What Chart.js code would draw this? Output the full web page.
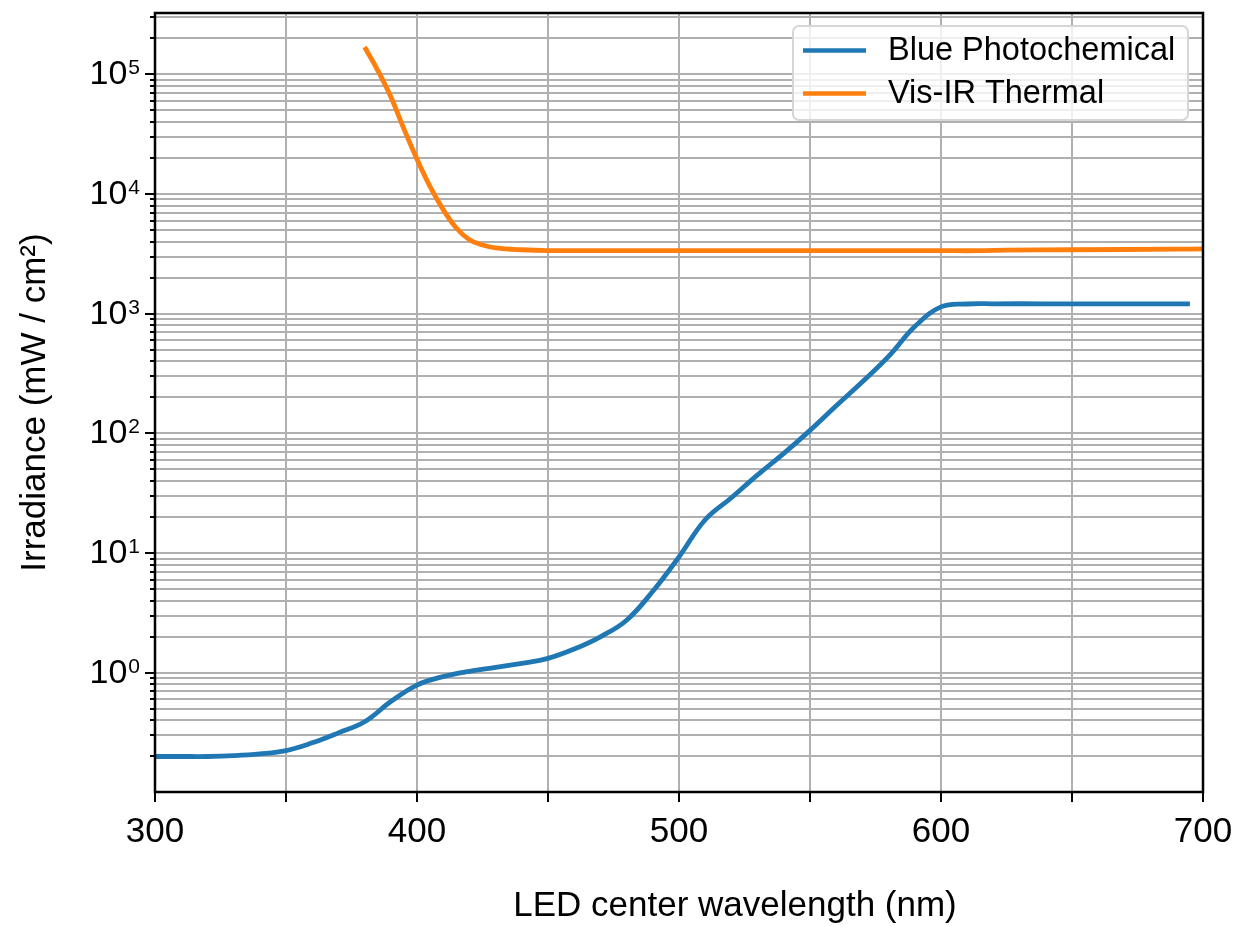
<!DOCTYPE html>
<html>
<head>
<meta charset="utf-8">
<script src="https://cdn.jsdelivr.net/npm/chart.js@4.4.1/dist/chart.umd.min.js"></script>
<style>
  html, body { margin: 0; padding: 0; background: #fff; }
  canvas { display: block; }
</style>
</head>
<body>
<canvas id="c" width="1252" height="926"></canvas>
<script>
// ---- data ----
const blueLabel = 'Blue Photochemical';
const blueWavelength = [300,310,320,330,340,350,360,370,380,390,400,410,420,430,440,450,460,470,480,490,500,510,520,530,540,550,560,570,580,590,600,610,620,640,660,680,695];
const blueIrradiance = [0.20,0.20,0.20,0.203,0.21,0.224,0.26,0.315,0.39,0.575,0.79,0.93,1.03,1.11,1.2,1.32,1.58,2.0,2.75,4.8,9.3,19,29,45,68,106,170,270,440,780,1140,1205,1210,1210,1210,1210,1210];

const thermalLabel = 'Vis-IR Thermal';
const thermalWavelength = [380,385,390,395,400,405,410,415,420,425,430,440,450,500,550,600,615,625,650,690,700];
const thermalIrradiance = [1.69e5,1.08e5,6.5e4,3.5e4,1.95e4,1.15e4,7.4e3,5.2e3,4.15e3,3.75e3,3.55e3,3.42e3,3.37e3,3.36e3,3.36e3,3.36e3,3.36e3,3.40e3,3.42e3,3.46e3,3.48e3];

const xTickLabels = ['300','400','500','600','700'];
const yMajorExponents = [0,1,2,3,4,5];
const xTitle = 'LED center wavelength (nm)';
const yTitle = 'Irradiance (mW / cm\u00B2)';

const xMin = 300, xMax = 700, xStep = 50;
const yMin = 0.101, yMax = 3.25e5;

// ---- helpers ----
function isPow10(v){ const l = Math.log10(v); return Math.abs(l - Math.round(l)) < 1e-9; }
function toPoints(xs, ys){ return xs.map((x, i) => ({x: x, y: ys[i]})); }
function zeroPad(s){ s.paddingTop = 0; s.paddingBottom = 0; s.paddingLeft = 0; s.paddingRight = 0; }

const FONT = "'Liberation Sans', Arial, sans-serif";

const decor = {
  id: 'decor',
  afterDatasetsDraw(chart){
    const {ctx, chartArea: a, scales: {x, y}} = chart;
    ctx.save();
    // tick marks
    ctx.strokeStyle = '#000';
    ctx.lineWidth = 2;
    ctx.beginPath();
    x.ticks.forEach(t => {
      const px = Math.round(x.getPixelForValue(t.value));
      ctx.moveTo(px, a.bottom); ctx.lineTo(px, a.bottom + 10);
    });
    y.ticks.forEach(t => {
      const py = Math.round(y.getPixelForValue(t.value));
      const len = isPow10(t.value) ? 10 : 5;
      ctx.moveTo(a.left - len, py); ctx.lineTo(a.left, py);
    });
    ctx.stroke();
    // spines
    ctx.lineWidth = 2.5;
    ctx.strokeRect(a.left, a.top, a.right - a.left, a.bottom - a.top);

    // y tick labels: 10 with superscript exponent
    ctx.fillStyle = '#000';
    ctx.textAlign = 'left';
    ctx.textBaseline = 'alphabetic';
    yMajorExponents.forEach(e => {
      const v = Math.pow(10, e);
      if (v < yMin || v > yMax) return;
      const py = y.getPixelForValue(v);
      const exp = String(e);
      ctx.font = '21px ' + FONT;
      const ew = ctx.measureText(exp).width;
      ctx.font = '34px ' + FONT;
      const bw = ctx.measureText('10').width;
      const right = a.left - 15;
      const base = py + 10;
      ctx.fillText('10', right - ew - 1 - bw, base);
      ctx.font = '21px ' + FONT;
      ctx.fillText(exp, right - ew, base - 10);
    });

    // x axis title
    ctx.font = '35px ' + FONT;
    ctx.textAlign = 'center';
    ctx.textBaseline = 'middle';
    ctx.fillText(xTitle, 735, 906);

    // legend (inside upper right)
    const bx = 793, by = 26, bw = 395, bh = 94, r = 6;
    ctx.beginPath();
    ctx.moveTo(bx + r, by);
    ctx.arcTo(bx + bw, by, bx + bw, by + bh, r);
    ctx.arcTo(bx + bw, by + bh, bx, by + bh, r);
    ctx.arcTo(bx, by + bh, bx, by, r);
    ctx.arcTo(bx, by, bx + bw, by, r);
    ctx.closePath();
    ctx.fillStyle = 'rgba(255,255,255,0.8)';
    ctx.fill();
    ctx.strokeStyle = '#d6d6d6';
    ctx.lineWidth = 2;
    ctx.stroke();
    const rows = [50.5, 93.5];
    chart.data.datasets.forEach((ds, i) => {
      ctx.strokeStyle = ds.borderColor;
      ctx.lineWidth = 4.5;
      ctx.beginPath();
      ctx.moveTo(803, rows[i]); ctx.lineTo(866, rows[i]);
      ctx.stroke();
      ctx.fillStyle = '#000';
      ctx.font = '32.5px ' + FONT;
      ctx.textBaseline = 'middle';
      ctx.textAlign = 'left';
      ctx.fillText(ds.label, 888, rows[i] + 1);
    });
    ctx.restore();
  }
};

new Chart(document.getElementById('c'), {
  type: 'line',
  data: {
    datasets: [
      { label: blueLabel, data: toPoints(blueWavelength, blueIrradiance), borderColor: '#1f77b4', borderWidth: 4.8, pointRadius: 0, fill: false, tension: 0.4 },
      { label: thermalLabel, data: toPoints(thermalWavelength, thermalIrradiance), borderColor: '#ff7f0e', borderWidth: 4.8, pointRadius: 0, fill: false, tension: 0.4 }
    ]
  },
  options: {
    responsive: false,
    animation: false,
    devicePixelRatio: 1,
    layout: { padding: { top: 13, right: 49, left: 0, bottom: 0 } },
    plugins: { legend: { display: false }, tooltip: { enabled: false } },
    scales: {
      x: {
        type: 'linear', min: xMin, max: xMax,
        afterFit(s){ s.height = 134; zeroPad(s); },
        grid: { color: '#b0b0b0', lineWidth: 2, drawTicks: false },
        border: { display: false },
        ticks: {
          stepSize: xStep, autoSkip: false, maxRotation: 0, padding: 19, color: '#000',
          font: { family: FONT, size: 35 },
          callback: v => xTickLabels.includes(String(v)) ? String(v) : ''
        },
        title: { display: false }
      },
      y: {
        type: 'logarithmic', min: yMin, max: yMax,
        afterFit(s){ s.width = 155; zeroPad(s); },
        afterBuildTicks(s){
          const t = [];
          for (let e = -1; e <= 5; e++) {
            for (let m = 1; m <= 9; m++) {
              const v = m * Math.pow(10, e);
              if (v >= yMin && v <= yMax) t.push({ value: v });
            }
          }
          s.ticks = t;
        },
        grid: { color: '#b0b0b0', lineWidth: 2, drawTicks: false },
        border: { display: false },
        ticks: { display: false, autoSkip: false },
        title: { display: true, text: yTitle, color: '#000', font: { family: FONT, size: 35, lineHeight: 1.2 }, padding: { top: 14, bottom: 0 } }
      }
    }
  },
  plugins: [decor]
});
</script>
</body>
</html>
